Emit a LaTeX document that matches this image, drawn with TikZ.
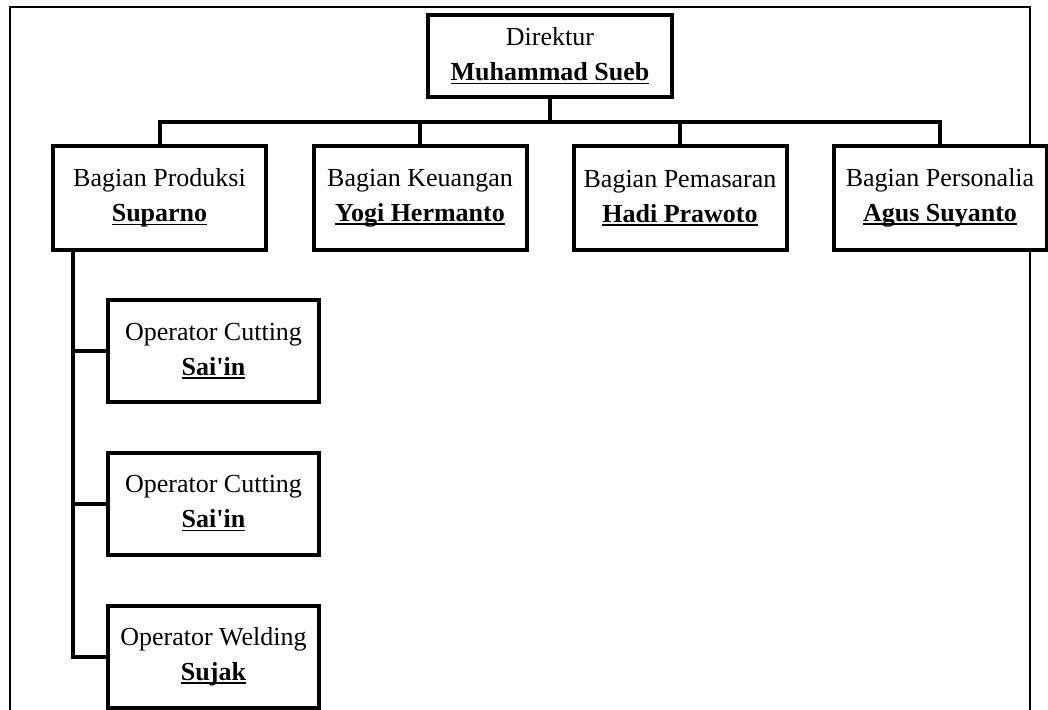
\documentclass[tikz,border=0pt]{standalone}
\usepackage{fontspec}
\setmainfont{Liberation Serif}[Ligatures=TeXOff]
\newcommand\ulname[1]{\textbf{\setbox0\hbox{#1}\rlap{\rule[-0.14em]{\wd0}{0.07em}}\box0}}
\tikzset{
  orgbox/.style={draw=black, line width=4pt, fill=white, align=center,
    font=\fontsize{26}{35}\selectfont, inner sep=0pt,
    minimum width=213pt, minimum height=104pt},
  dirbox/.style={orgbox, minimum width=244pt, minimum height=82pt},
  opbox/.style={orgbox, minimum width=211pt, minimum height=102pt},
  conn/.style={draw=black, line width=4pt},
  frame/.style={draw=black, line width=1.8pt}
}
\begin{document}
\begin{tikzpicture}[x=1pt,y=-1pt]
\useasboundingbox (0,0) rectangle (1048,709);
\draw[frame] (10,7) rectangle (1030,730);

\node[dirbox] (dir) at (550,56) {Direktur\\\ulname{Muhammad Sueb}};
\node[orgbox] (prod) at (159.5,198) {Bagian Produksi\\\ulname{Suparno}};
\node[orgbox] (keu) at (420,198) {Bagian Keuangan\\\ulname{Yogi Hermanto}};
\node[orgbox] (pem) at (680,198) {Bagian Pemasaran\\\ulname{Hadi Prawoto}};
\node[orgbox] (pers) at (940,198) {Bagian Personalia\\\ulname{Agus Suyanto}};
\node[opbox] (op1) at (213.5,351) {Operator Cutting\\\ulname{Sai'in}};
\node[opbox] (op2) at (213.5,503.5) {Operator Cutting\\\ulname{Sai'in}};
\node[opbox] (weld) at (213.5,656.5) {Operator Welding\\\ulname{Sujak}};

\coordinate (bus) at (550,121.5);
\coordinate (stemtop) at (73,250);

\draw[conn] (dir.south) -- (bus);
\draw[conn] (prod.north) |- (bus) -| (pers.north);
\draw[conn] (keu.north) -- (keu.north |- bus);
\draw[conn] (pem.north) -- (pem.north |- bus);
\draw[conn] (stemtop) |- (weld.west);
\draw[conn] (stemtop |- op1.west) -- (op1.west);
\draw[conn] (stemtop |- op2.west) -- (op2.west);
\end{tikzpicture}
\end{document}
